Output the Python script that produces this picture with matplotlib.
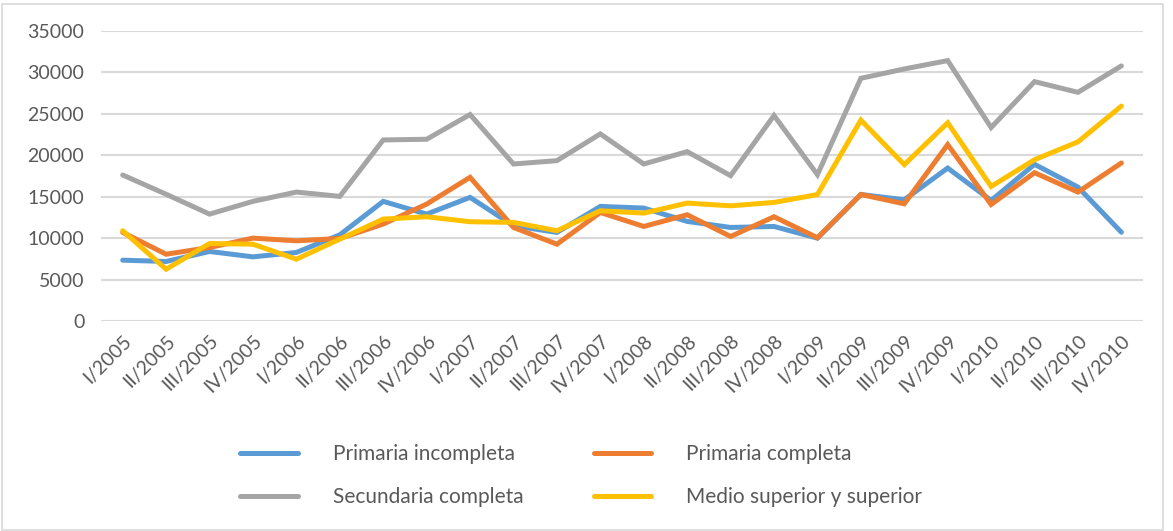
import matplotlib.pyplot as plt
from matplotlib.patches import Rectangle

quarters = ['I/2005', 'II/2005', 'III/2005', 'IV/2005',
            'I/2006', 'II/2006', 'III/2006', 'IV/2006',
            'I/2007', 'II/2007', 'III/2007', 'IV/2007',
            'I/2008', 'II/2008', 'III/2008', 'IV/2008',
            'I/2009', 'II/2009', 'III/2009', 'IV/2009',
            'I/2010', 'II/2010', 'III/2010', 'IV/2010']

primaria_incompleta = [7340, 7180, 8390, 7740, 8270, 10400, 14440, 12900,
                       14920, 11490, 10690, 13830, 13630, 12020, 11290, 11410,
                       10000, 15270, 14630, 18460, 14550, 18910, 16160, 10710]
primaria_completa = [10690, 8060, 8870, 10000, 9680, 9960, 11700, 14110,
                     17340, 11290, 9270, 13100, 11410, 12820, 10200, 12580,
                     10050, 15270, 14140, 21290, 14060, 17900, 15560, 19070]
secundaria_completa = [17620, 15300, 12900, 14440, 15560, 15040, 21850, 21935,
                       24920, 18950, 19350, 22580, 18950, 20440, 17540, 24800,
                       17660, 29290, 30420, 31430, 23350, 28890, 27600, 30790]
medio_superior = [10890, 6250, 9350, 9270, 7460, 9880, 12300, 12580,
                  11980, 11900, 10890, 13300, 13020, 14230, 13900, 14310,
                  15260, 24240, 18870, 23920, 16240, 19470, 21620, 25940]

series = [
    ('Primaria incompleta', primaria_incompleta, '#5B9BD5'),
    ('Primaria completa', primaria_completa, '#ED7D31'),
    ('Secundaria completa', secundaria_completa, '#A5A5A5'),
    ('Medio superior y superior', medio_superior, '#FFC000'),
]

plt.rcParams['font.family'] = ['Lato', 'DejaVu Sans']
text_color = '#595959'

fig = plt.figure(figsize=(11.73, 5.31), dpi=100)
ax = fig.add_axes([0.0861, 0.3955, 0.8884, 0.5461])

x = list(range(len(quarters)))
lines = []
for name, vals, color in series:
    ln, = ax.plot(x, vals, color=color, lw=3.6, label=name,
                  solid_joinstyle='miter', solid_capstyle='round')
    lines.append(ln)

ax.set_xlim(-0.5, len(quarters) - 0.5)
ax.set_ylim(0, 35000)
ax.set_yticks(range(0, 35001, 5000))
ax.set_xticks(x)
ax.set_xticklabels(quarters, rotation=45, ha='right', rotation_mode='anchor')
ax.tick_params(axis='both', length=0, colors=text_color, labelsize=14)
ax.tick_params(axis='x', pad=8)
ax.tick_params(axis='y', pad=12)
ax.grid(axis='y', color='#D9D9D9', lw=1.5)
ax.set_axisbelow(True)
for s in ax.spines.values():
    s.set_visible(False)

# legend is filled row by row in the reference, matplotlib fills by column
order = [0, 2, 1, 3]
leg = fig.legend([lines[i] for i in order], [series[i][0] for i in order],
                 loc='center', bbox_to_anchor=(0.4957, 0.104), ncol=2,
                 frameon=False, fontsize=15, handlelength=2.74,
                 handletextpad=1.68, columnspacing=3.42, labelspacing=1.1)
for t in leg.get_texts():
    t.set_color(text_color)

fig.patches.append(Rectangle((2 / 1173, 1 / 531), 1161 / 1173, 526 / 531,
                             transform=fig.transFigure, fill=False,
                             edgecolor='#D9D9D9', lw=1.2))

fig.savefig('out.png', dpi=100)
